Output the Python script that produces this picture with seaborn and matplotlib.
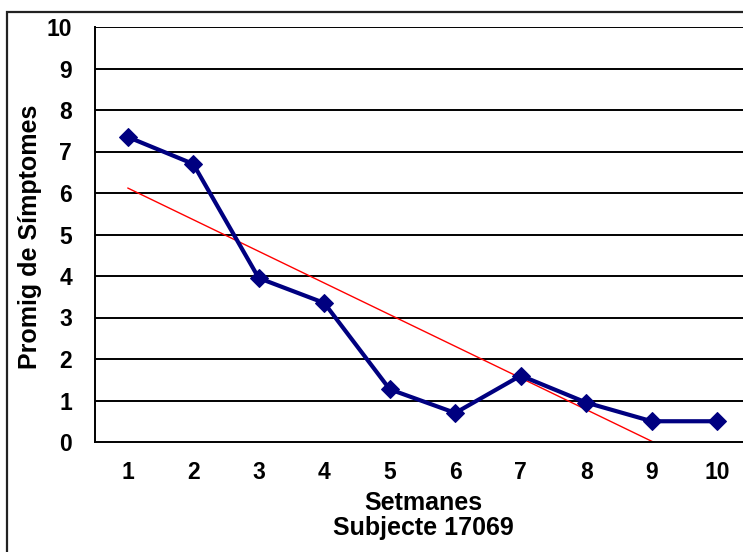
import numpy as np
import pandas as pd
import seaborn as sns
import matplotlib.pyplot as plt
from matplotlib.patches import Rectangle

weeks = [1, 2, 3, 4, 5, 6, 7, 8, 9, 10]
symptoms = [7.35, 6.7, 3.95, 3.35, 1.27, 0.7, 1.6, 0.95, 0.5, 0.5]

df = pd.DataFrame({"week": weeks, "avg": symptoms})

sns.set_style("white")
plt.rcParams["font.family"] = ["Liberation Sans", "DejaVu Sans"]
plt.rcParams["font.weight"] = "bold"
plt.rcParams["text.color"] = "black"
plt.rcParams["axes.labelcolor"] = "black"
plt.rcParams["xtick.color"] = "black"
plt.rcParams["ytick.color"] = "black"

W, H = 743, 552
fig = plt.figure(figsize=(W / 100, H / 100), dpi=100)

# outer chart border (cropped on the right/bottom like the original)
fig.patches.append(Rectangle((7 / W, -0.1), 1.2, 1 - 12 / H + 0.1,
                             transform=fig.transFigure, fill=False,
                             edgecolor="#222222", linewidth=1.6, zorder=0))

ax = fig.add_axes([95 / W, (H - 442) / H, (750 - 95) / W, 415 / H])

for y in range(1, 11):
    ax.axhline(y, color="black", linewidth=1.4, zorder=1)

# linear trend line
sns.regplot(data=df, x="week", y="avg", scatter=False, ci=None,
            color="red", line_kws={"linewidth": 1}, ax=ax)

sns.lineplot(data=df, x="week", y="avg", color="#000080", linewidth=3,
             marker="D", markersize=9, markeredgecolor="#000080", ax=ax,
             zorder=3)

ax.set_xlim(0.5, 10.5)
ax.set_ylim(0, 10)
ax.set_xticks(weeks)
ax.set_yticks(range(0, 11))
ax.tick_params(axis="both", length=0, labelsize=16.5)
ax.tick_params(axis="y", pad=16.5)
ax.tick_params(axis="x", pad=14)
for lab in ax.get_xticklabels() + ax.get_yticklabels():
    lab.set_fontweight("bold")

for side in ["left", "bottom"]:
    ax.spines[side].set_color("black")
    ax.spines[side].set_linewidth(1.4)
ax.spines["top"].set_visible(False)
ax.spines["right"].set_visible(False)

ax.set_xlabel("Setmanes\nSubjecte 17069", fontsize=18, fontweight="bold",
              linespacing=1.05)
ax.set_ylabel("Promig de Símptomes", fontsize=18, fontweight="bold")
# centre the titles on the plotted part of the axes (the right edge is cut)
ax.xaxis.set_label_coords((423 - 95) / (750 - 95), -0.118)
ax.yaxis.set_label_coords(-0.081, (442 - 237) / 415)
ax.xaxis.label.set_verticalalignment("top")

fig.savefig("out.png", dpi=100)
